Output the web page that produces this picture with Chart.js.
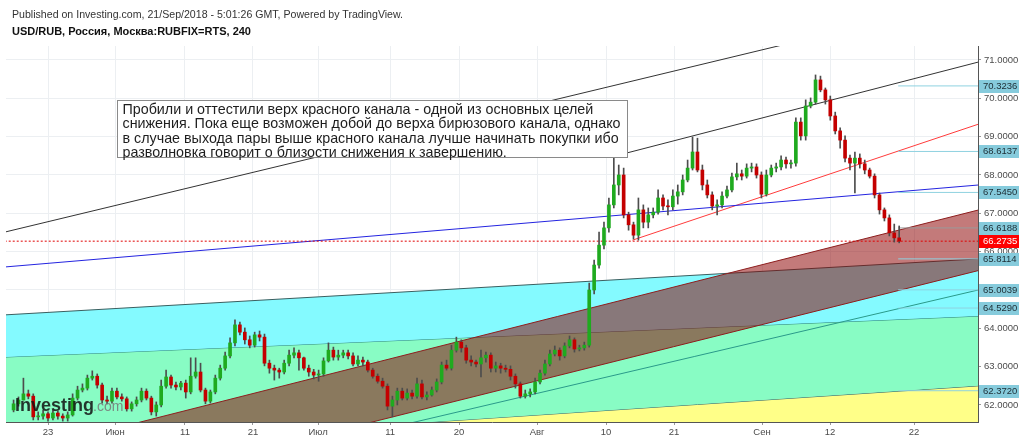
<!DOCTYPE html>
<html>
<head>
<meta charset="utf-8">
<title>USD/RUB, RUBFIX=RTS, 240</title>
<script src="https://cdn.jsdelivr.net/npm/chart.js@4.4.1/dist/chart.umd.min.js"></script>
<style>
  html, body { margin: 0; padding: 0; background: #fff; }
  #wrap { width: 1024px; height: 441px; }
</style>
</head>
<body>
<div id="wrap"><canvas id="chart" width="1024" height="441"></canvas></div>
<script>
// 4h candles, two per trading day; x is counted in trading days from 23 May
const barStart = -3.5;
const barStep = 0.5;

const opens = [
    61.87, 62.03, 62.13, 62.29, 62.23, 61.69, 61.71, 61.77, 61.66, 61.79,
    61.71, 61.66, 61.74, 62.18, 62.39, 62.44, 62.70, 62.75, 62.52, 62.13,
    62.10, 62.36, 62.21, 62.16, 61.90, 62.03, 62.13, 62.36, 62.18, 61.82,
    62.00, 62.49, 62.73, 62.52, 62.47, 62.57, 62.34, 62.75, 62.86, 62.39,
    62.10, 62.34, 62.70, 62.96, 63.28, 63.62, 64.09, 63.90, 63.70, 63.56,
    63.83, 63.77, 63.09, 62.96, 62.91, 62.86, 63.09, 63.30, 63.36, 63.23,
    62.96, 62.86, 62.78, 62.81, 63.15, 63.43, 63.25, 63.30, 63.36, 63.28,
    63.07, 63.17, 63.12, 62.91, 62.75, 62.62, 62.49, 61.97, 62.13, 62.36,
    62.18, 62.31, 62.23, 62.55, 62.21, 62.26, 62.39, 62.60, 63.04, 62.96,
    63.43, 63.64, 63.49, 63.17, 63.12, 63.07, 63.23, 63.30, 62.96, 63.02,
    62.96, 62.93, 62.75, 62.55, 62.23, 62.29, 62.34, 62.60, 62.83, 63.07,
    63.33, 63.43, 63.28, 63.54, 63.70, 63.46, 63.49, 63.56, 65.00, 65.65,
    66.17, 66.62, 67.22, 67.74, 68.00, 66.96, 66.70, 66.43, 67.09, 66.77,
    66.96, 67.03, 67.40, 67.19, 67.17, 67.45, 67.56, 67.87, 68.18, 68.60,
    68.13, 67.74, 67.48, 67.19, 67.22, 67.45, 67.61, 67.95, 68.03, 67.97,
    68.18, 68.21, 68.00, 67.50, 68.00, 68.18, 68.21, 68.39, 68.29, 68.31,
    69.38, 69.02, 69.80, 69.90, 70.48, 70.22, 69.96, 69.54, 69.15, 68.91,
    68.44, 68.31, 68.44, 68.29, 68.13, 67.97, 67.48, 67.09, 66.88, 66.49,
    66.36
];
const highs = [
    62.13, 62.21, 62.70, 62.39, 62.29, 61.82, 61.87, 61.82, 61.87, 61.84,
    61.77, 61.82, 62.29, 62.49, 62.55, 62.78, 62.89, 62.81, 62.57, 62.23,
    62.44, 62.44, 62.29, 62.21, 62.08, 62.21, 62.44, 62.42, 62.23, 62.08,
    62.65, 62.91, 62.78, 62.60, 62.62, 62.65, 63.23, 63.23, 63.09, 62.44,
    62.39, 62.78, 63.04, 63.38, 63.75, 64.22, 64.16, 64.01, 63.80, 63.90,
    63.93, 63.85, 63.17, 63.04, 62.96, 63.17, 63.43, 63.49, 63.43, 63.25,
    63.04, 62.93, 62.91, 63.23, 63.62, 63.51, 63.43, 63.43, 63.43, 63.36,
    63.28, 63.25, 63.17, 62.96, 62.81, 62.70, 62.55, 62.23, 62.44, 62.44,
    62.42, 62.39, 62.70, 62.65, 62.34, 62.47, 62.68, 63.12, 63.17, 63.56,
    63.77, 63.70, 63.56, 63.28, 63.17, 63.43, 63.38, 63.36, 63.12, 63.09,
    63.04, 63.02, 62.81, 62.60, 62.39, 62.42, 62.70, 62.91, 63.17, 63.43,
    63.54, 63.49, 63.62, 63.80, 63.75, 63.56, 63.64, 65.18, 65.78, 66.51,
    66.77, 67.40, 68.50, 68.26, 68.18, 67.03, 66.77, 67.40, 67.22, 67.14,
    67.14, 67.61, 67.48, 67.35, 67.61, 67.74, 68.00, 68.39, 68.99, 68.96,
    68.26, 67.87, 67.56, 67.35, 67.56, 67.71, 68.05, 68.31, 68.13, 68.29,
    68.31, 68.29, 68.08, 68.13, 68.26, 68.31, 68.50, 68.47, 68.39, 69.49,
    69.49, 69.96, 70.01, 70.61, 70.58, 70.27, 70.06, 69.64, 69.23, 69.02,
    68.52, 68.60, 68.55, 68.39, 68.18, 68.03, 67.53, 67.14, 66.96, 66.72,
    66.67
];
const lows = [
    61.82, 61.97, 62.13, 62.16, 61.61, 61.61, 61.63, 61.58, 61.61, 61.63,
    61.58, 61.58, 61.71, 62.13, 62.34, 62.39, 62.65, 62.44, 62.05, 62.03,
    62.05, 62.16, 62.10, 61.84, 61.84, 61.97, 62.08, 62.13, 61.74, 61.71,
    61.95, 62.44, 62.44, 62.39, 62.39, 62.18, 62.29, 62.70, 62.34, 62.03,
    62.05, 62.29, 62.65, 62.91, 63.23, 63.54, 63.83, 63.59, 63.49, 63.51,
    63.67, 63.02, 62.83, 62.65, 62.70, 62.81, 63.02, 63.23, 62.91, 62.91,
    62.75, 62.68, 62.62, 62.75, 63.12, 63.17, 63.17, 63.23, 63.20, 63.02,
    63.02, 63.02, 62.86, 62.70, 62.57, 62.44, 61.87, 61.69, 62.00, 62.13,
    62.13, 62.16, 62.18, 62.16, 62.13, 62.23, 62.34, 62.55, 62.91, 62.91,
    63.38, 63.38, 63.09, 63.02, 62.99, 62.73, 63.12, 62.86, 62.86, 62.83,
    62.86, 62.65, 62.44, 62.18, 62.18, 62.21, 62.29, 62.55, 62.78, 63.02,
    63.28, 63.17, 63.23, 63.49, 63.38, 63.41, 63.43, 63.51, 64.90, 65.57,
    66.07, 66.51, 67.14, 67.48, 66.88, 66.56, 66.33, 66.30, 66.62, 66.62,
    66.88, 66.98, 67.09, 66.96, 67.09, 67.24, 67.48, 67.82, 68.13, 68.08,
    67.61, 67.40, 67.09, 66.96, 67.14, 67.40, 67.56, 67.87, 67.87, 67.92,
    68.08, 67.92, 67.40, 67.45, 67.95, 68.08, 68.13, 68.18, 68.18, 68.23,
    68.91, 68.91, 69.75, 69.85, 70.17, 69.85, 69.43, 69.07, 68.70, 68.34,
    68.13, 67.53, 68.18, 68.03, 67.92, 67.40, 66.98, 66.80, 66.41, 66.25,
    66.23
];
const closes = [
    62.03, 62.13, 62.29, 62.23, 61.69, 61.71, 61.77, 61.66, 61.79, 61.71,
    61.66, 61.74, 62.18, 62.39, 62.44, 62.70, 62.75, 62.52, 62.13, 62.10,
    62.36, 62.21, 62.16, 61.90, 62.03, 62.13, 62.36, 62.18, 61.82, 62.00,
    62.49, 62.73, 62.52, 62.47, 62.57, 62.34, 62.75, 62.86, 62.39, 62.10,
    62.34, 62.70, 62.96, 63.28, 63.62, 64.09, 63.90, 63.70, 63.56, 63.83,
    63.77, 63.09, 62.96, 62.91, 62.86, 63.09, 63.30, 63.36, 63.23, 62.96,
    62.86, 62.78, 62.81, 63.15, 63.43, 63.25, 63.30, 63.36, 63.28, 63.07,
    63.17, 63.12, 62.91, 62.75, 62.62, 62.49, 61.97, 62.13, 62.36, 62.18,
    62.31, 62.23, 62.55, 62.21, 62.26, 62.39, 62.60, 63.04, 62.96, 63.43,
    63.64, 63.49, 63.17, 63.12, 63.07, 63.23, 63.30, 62.96, 63.02, 62.96,
    62.93, 62.75, 62.55, 62.23, 62.29, 62.34, 62.60, 62.83, 63.07, 63.33,
    63.43, 63.28, 63.54, 63.70, 63.46, 63.49, 63.56, 65.00, 65.65, 66.17,
    66.62, 67.22, 67.74, 68.00, 66.96, 66.70, 66.43, 67.09, 66.77, 66.96,
    67.03, 67.40, 67.19, 67.17, 67.45, 67.56, 67.87, 68.18, 68.60, 68.13,
    67.74, 67.48, 67.19, 67.22, 67.45, 67.61, 67.95, 68.03, 67.97, 68.18,
    68.21, 68.00, 67.50, 68.00, 68.18, 68.21, 68.39, 68.29, 68.31, 69.38,
    69.02, 69.80, 69.90, 70.48, 70.22, 69.96, 69.54, 69.15, 68.91, 68.44,
    68.31, 68.44, 68.29, 68.13, 67.97, 67.48, 67.09, 66.88, 66.49, 66.36,
    66.2735
];

// axis
const xTickPos = [0, 6.81, 13.92, 20.83, 27.44, 34.76, 41.77, 49.70, 56.71, 63.62, 72.56, 79.47, 88.01];
const xTickLabels = ['23', 'Июн', '11', '21', 'Июл', '11', '20', 'Авг', '10', '21', 'Сен', '12', '22'];
const priceTicks = [62, 63, 64, 65, 66, 67, 68, 69, 70, 71];

// drawings: [x, price] end points
const yellowEdge = [[-4.4, 60.82], [94.6, 62.50]];
const mintEdge = [[-4.4, 63.25], [94.6, 64.32]];
const cyanEdge = [[-4.4, 64.35], [94.6, 65.8114]];
const redTop = [[-4.4, 60.66], [94.6, 67.09]];
const redBottom = [[-4.4, 59.16], [94.6, 65.51]];
const tealRay = [[33.7, 61.34], [94.6, 65.0039]];
const blueLine = [[-4.4, 65.60], [94.6, 67.74]];
const blackTop = [[-4.4, 66.51], [74.6, 71.39]];
const blackBottom = [[57.7, 68.50], [94.6, 70.95]];
const redRay = [[59.4, 66.30], [94.6, 69.33]];

const lastPrice = 66.2735;
const levelStart = 86.4;
const levelPrices = [70.3236, 68.6137, 67.5450, 66.6188, 65.8114, 65.0039, 64.5290, 62.3720];

const noteAnchor = [7.0, 69.96];
const noteLines = [
    'Пробили и оттестили верх красного канала - одной из основных целей',
    'снижения. Пока еще возможен добой до верха бирюзового канала, однако',
    'в случае выхода пары выше красного канала лучше начинать покупки ибо',
    'разволновка говорит о близости снижения к завершению.'
];

const FONT = '"Liberation Sans", Arial, sans-serif';

function seg(pts, color, extra) {
    return Object.assign({
        type: 'line',
        data: pts.map(p => ({ x: p[0], y: p[1] })),
        borderColor: color,
        borderWidth: 1,
        pointRadius: 0,
        tension: 0,
        fill: false,
        order: 10
    }, extra || {});
}

const barX = i => barStart + i * barStep;

const datasets = [
    seg(yellowEdge, '#3d6b6b', { fill: 'start', backgroundColor: '#ffff88', order: 40 }),
    seg(mintEdge, '#2f8a80', { fill: { target: 0 }, backgroundColor: '#88fcc4', order: 39 }),
    seg(cyanEdge, '#3b5f60', { fill: { target: 1 }, backgroundColor: '#84faff', order: 38 }),
    seg(redTop, '#8e1f1f', { fill: { target: 4 }, backgroundColor: 'rgba(140,0,0,0.52)', order: 30 }),
    seg(redBottom, '#8e1f1f', { order: 29 }),
    seg(tealRay, '#2a9a8a'),
    seg(blueLine, '#2424e0'),
    seg(blackTop, '#333333'),
    seg(blackBottom, '#333333'),
    seg(redRay, '#ff3b3b'),
    seg([[-4.4, lastPrice], [94.6, lastPrice]], '#e00000', { borderDash: [2, 2], order: 5 })
];

levelPrices.forEach((p, i) => {
    const color = i === 3 ? '#9a9a9a' : '#8fd2e0';
    datasets.push(seg([[levelStart, p], [94.6, p]], color, { order: 9 }));
});

// wicks
datasets.push({
    type: 'bar',
    data: highs.map((h, i) => ({ x: barX(i), y: [lows[i], h] })),
    backgroundColor: '#4d4d4d',
    barThickness: 1,
    grouped: false,
    order: 2
});

// bodies
datasets.push({
    type: 'bar',
    data: opens.map((o, i) => ({ x: barX(i), y: [o, closes[i]] })),
    backgroundColor: opens.map((o, i) => closes[i] >= o ? '#1faa1f' : '#c40000'),
    barThickness: 3,
    minBarLength: 1,
    grouped: false,
    order: 1
});

function drawTag(ctx, y, text, bg, fg) {
    const cy = Math.round(y);
    ctx.fillStyle = bg;
    ctx.fillRect(979, cy - 6, 40, 13);
    ctx.fillStyle = fg;
    ctx.fillText(text, 983, cy + 0.5);
}

const overlays = {
    id: 'overlays',
    beforeDraw(chart) {
        const ctx = chart.ctx;
        ctx.save();
        ctx.fillStyle = '#ffffff';
        ctx.fillRect(0, 0, chart.width, chart.height);
        ctx.restore();
    },
    afterDatasetsDraw(chart) {
        const { ctx, scales: { x, y } } = chart;
        ctx.save();

        // watermark
        ctx.globalAlpha = 0.85;
        ctx.font = 'bold 18px ' + FONT;
        ctx.fillStyle = '#111';
        ctx.textBaseline = 'alphabetic';
        ctx.fillText('Investing', 15, 411);
        const w = ctx.measureText('Investing').width;
        ctx.font = '14px ' + FONT;
        ctx.fillStyle = '#777';
        ctx.fillText('.com', 14 + w, 411);
        ctx.globalAlpha = 1;

        // note box
        const bx = Math.round(x.getPixelForValue(noteAnchor[0])) + 0.5;
        const by = Math.round(y.getPixelForValue(noteAnchor[1])) + 0.5;
        ctx.fillStyle = '#ffffff';
        ctx.fillRect(bx, by, 510, 57);
        ctx.strokeStyle = '#8a8a8a';
        ctx.lineWidth = 1;
        ctx.strokeRect(bx, by, 510, 57);
        ctx.font = '14.3px ' + FONT;
        ctx.fillStyle = '#1e1e1e';
        ctx.textBaseline = 'middle';
        noteLines.forEach((t, i) => ctx.fillText(t, bx + 5, by + 9.5 + i * 14.3));
        ctx.restore();
    },
    afterDraw(chart) {
        const { ctx, scales: { y } } = chart;
        ctx.save();
        ctx.font = '9.5px ' + FONT;
        ctx.textBaseline = 'middle';
        levelPrices.forEach(p => drawTag(ctx, y.getPixelForValue(p), p.toFixed(4), '#86cbdc', '#1c2c33'));
        drawTag(ctx, y.getPixelForValue(lastPrice), lastPrice.toFixed(4), '#ff0000', '#ffffff');

        // header
        ctx.textBaseline = 'alphabetic';
        ctx.fillStyle = '#333';
        ctx.font = '10.6px ' + FONT;
        ctx.fillText('Published on Investing.com, 21/Sep/2018 - 5:01:26 GMT, Powered by TradingView.', 12, 18);
        ctx.fillStyle = '#111';
        ctx.font = 'bold 11px ' + FONT;
        ctx.fillText('USD/RUB, Россия, Москва:RUBFIX=RTS, 240', 12, 35);
        ctx.restore();
    }
};

new Chart(document.getElementById('chart'), {
    type: 'bar',
    data: { datasets },
    options: {
        responsive: false,
        devicePixelRatio: 1,
        animation: false,
        layout: { padding: { left: 6, top: 46, right: 0, bottom: 0 } },
        plugins: { legend: { display: false }, tooltip: { enabled: false } },
        scales: {
            x: {
                type: 'linear',
                min: -4.27,
                max: 94.51,
                offset: false,
                afterBuildTicks: s => { s.ticks = xTickPos.map(v => ({ value: v })); },
                afterFit: s => { s.height = 19; },
                ticks: {
                    autoSkip: false,
                    maxRotation: 0,
                    padding: 2,
                    color: '#4c4c4c',
                    font: { family: FONT, size: 9.5 },
                    callback: (v, i) => xTickLabels[i]
                },
                grid: { color: '#eceff2', tickLength: 3, tickColor: '#999', offset: false },
                border: { color: '#555' }
            },
            y: {
                type: 'linear',
                position: 'right',
                min: 61.556,
                max: 71.365,
                afterBuildTicks: s => { s.ticks = priceTicks.map(v => ({ value: v })); },
                afterFit: s => { s.width = 46; },
                ticks: {
                    padding: 3,
                    color: '#4c4c4c',
                    font: { family: FONT, size: 9.5 },
                    callback: v => v.toFixed(4)
                },
                grid: { color: '#eceff2', tickLength: 3, tickColor: '#999' },
                border: { color: '#555' }
            }
        }
    },
    plugins: [overlays]
});
</script>
</body>
</html>
